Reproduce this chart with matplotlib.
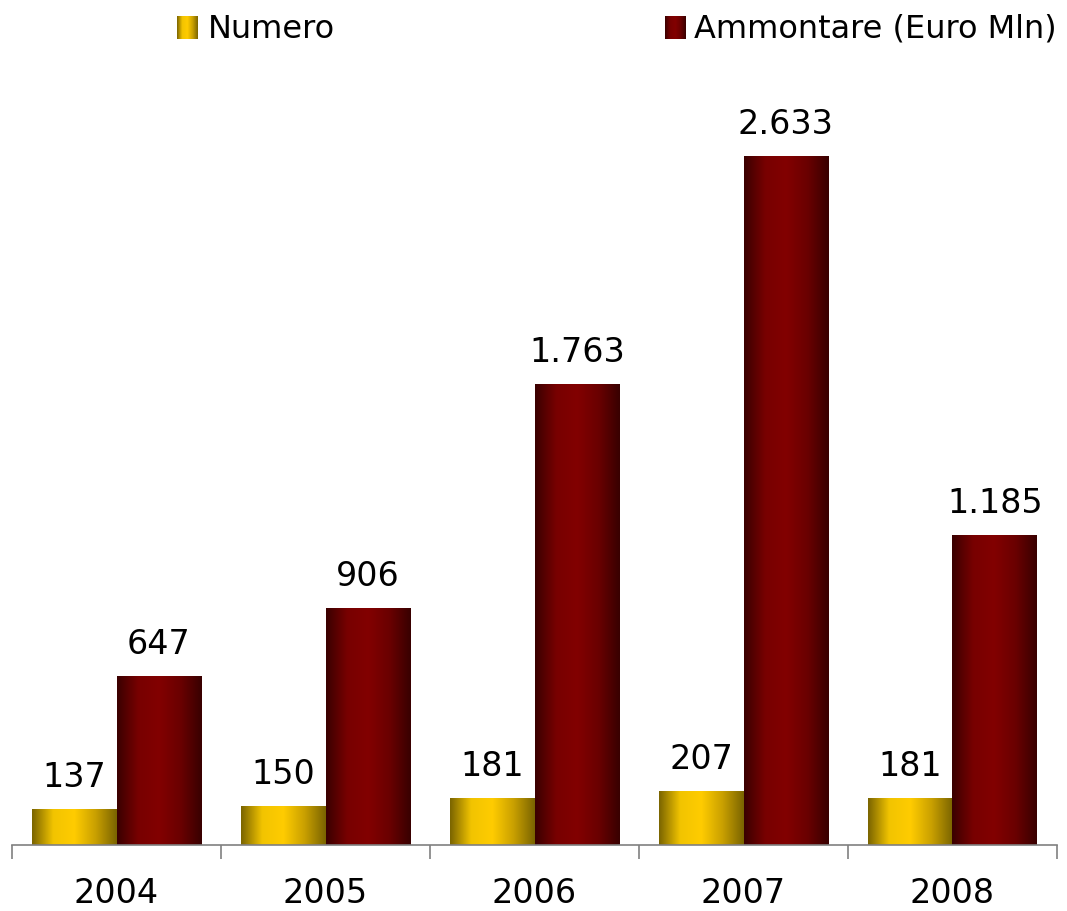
import matplotlib.pyplot as plt
from matplotlib.colors import LinearSegmentedColormap
import numpy as np

years = ['2004', '2005', '2006', '2007', '2008']
numero = [137, 150, 181, 207, 181]
ammontare = [647, 906, 1763, 2633, 1185]
numero_labels = ['137', '150', '181', '207', '181']
ammontare_labels = ['647', '906', '1.763', '2.633', '1.185']

# horizontal shading: dark edges, bright middle
cmap_gold = LinearSegmentedColormap.from_list('gold', ['#7a6400', '#f2c400', '#ffcc00', '#c9a000', '#7a6400'])
cmap_red = LinearSegmentedColormap.from_list('red', ['#3a0000', '#780000', '#820000', '#6a0000', '#380000'])

fig = plt.figure(figsize=(10.67, 9.12), dpi=100)
ax = fig.add_axes([12 / 1067, 66 / 912, 1045 / 1067, (846 - 100) / 912])

x = np.arange(len(years))
w = 0.405
grad = np.linspace(0, 1, 256).reshape(1, -1)


def shaded_bars(xpos, vals, cmap):
    bars = ax.bar(xpos, vals, w, color='none', edgecolor='none')
    for b in bars:
        x0, y0 = b.get_x(), b.get_y()
        im = ax.imshow(grad, cmap=cmap, aspect='auto', interpolation='bicubic',
                       extent=[x0, x0 + b.get_width(), y0, y0 + b.get_height()], zorder=2)
        im.set_clip_path(b)
    return bars


b1 = shaded_bars(x - w / 2, numero, cmap_gold)
b2 = shaded_bars(x + w / 2, ammontare, cmap_red)

for b, t in zip(b1, numero_labels):
    ax.text(b.get_x() + b.get_width() / 2, b.get_height() + 60, t,
            ha='center', va='bottom', fontsize=24)
for b, t in zip(b2, ammontare_labels):
    ax.text(b.get_x() + b.get_width() / 2, b.get_height() + 60, t,
            ha='center', va='bottom', fontsize=24)

ax.set_xlim(-0.5, len(years) - 0.5)
ax.set_ylim(0, 2633 * 746 / 689)
for s in ['top', 'right', 'left']:
    ax.spines[s].set_visible(False)
ax.spines['bottom'].set_color('#808080')
ax.spines['bottom'].set_linewidth(1.2)
ax.set_yticks([])
ax.set_xticks(np.arange(-0.5, len(years)), minor=False)
ax.set_xticklabels([])
ax.tick_params(axis='x', which='major', length=10, direction='out', color='#808080', width=1.2)
ax.set_xticks(x, minor=True)
ax.set_xticklabels(years, minor=True, fontsize=24)
ax.tick_params(axis='x', which='minor', length=0, pad=22)

# legend
def legend_square(left, cmap):
    lax = fig.add_axes([left / 1067, 1 - 40 / 912, 21 / 1067, 23 / 912])
    lax.imshow(grad, cmap=cmap, aspect='auto')
    lax.axis('off')


legend_square(177, cmap_gold)
legend_square(665, cmap_red)
fig.text(208 / 1067, 1 - 29 / 912, 'Numero', fontsize=23, va='center')
fig.text(694 / 1067, 1 - 29 / 912, 'Ammontare (Euro Mln)', fontsize=23, va='center')

fig.savefig('out.png', dpi=100)
